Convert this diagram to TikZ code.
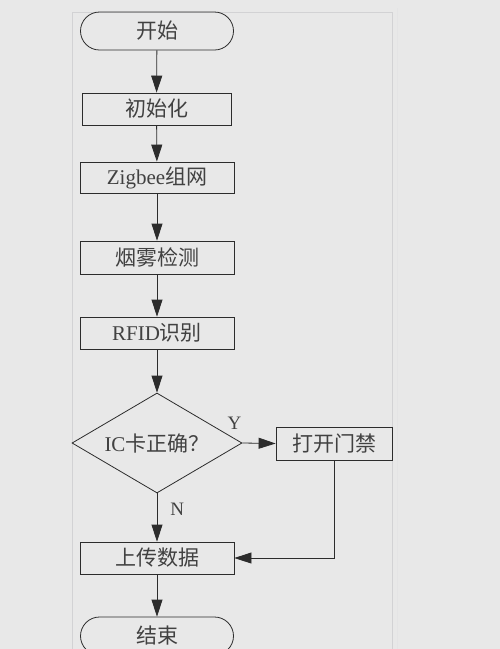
\documentclass[tikz,border=0pt]{standalone}
\usepackage{fontspec}
\setmainfont{Liberation Serif}
\newfontfamily\cjk{Noto Sans CJK SC}
\usetikzlibrary{shapes.geometric,arrows.meta}
\definecolor{bgcol}{HTML}{E8E8E8}
\definecolor{panelcol}{HTML}{D2D2D4}
\definecolor{inkcol}{HTML}{2C2C2C}
\newcommand{\zh}[1]{{\cjk #1}}
\tikzset{
	>={Triangle[length=17pt,width=11pt]},
	every node/.style={text=inkcol!90,font=\fontsize{21}{21}\selectfont},
	procbox/.style={draw=inkcol,line width=.8pt,rectangle,minimum width=154pt,minimum height=32pt,inner sep=0pt},
	termbox/.style={draw=inkcol,line width=.8pt,rectangle,rounded corners=19pt,minimum width=153pt,minimum height=38pt,inner sep=0pt},
	testbox/.style={draw=inkcol,line width=.8pt,diamond,aspect=1.7,minimum width=170pt,minimum height=100pt,inner sep=1pt},
	flow/.style={->,draw=inkcol,line width=.8pt},
	yesno/.style={font=\fontsize{19}{19}\selectfont,inner sep=0pt},
}
\begin{document}
\begin{tikzpicture}[x=1pt,y=-1pt]
		\fill[bgcol] (0,0) rectangle (500,649);
		\useasboundingbox (0,0) rectangle (500,649);
		% panel frame
		\draw[panelcol,line width=1pt] (72,660) -- (72,12) -- (392,12) -- (392,660);
		\draw[panelcol!60,line width=1pt] (397,8) -- (397,660);
		\node[termbox] (start) at (157,31) {\zh{开始}};
		\node[procbox,minimum width=149pt] (init) at (156.5,109) {\zh{初始化}};
		\node[procbox,minimum height=31pt] (zigbee) at (157,177.5) {Zigbee\zh{组网}};
		\node[procbox,minimum height=33pt] (smoke) at (157,257.5) {\zh{烟雾检测}};
		\node[procbox] (rfid) at (157,333) {RFID\zh{识别}};
		\node[testbox] (check) at (157,443) {IC\zh{卡正确？}};
		\node[procbox,minimum width=116pt,minimum height=33pt] (door) at (334,443.5) {\zh{打开门禁}};
		\node[procbox] (upload) at (157,558) {\zh{上传数据}};
		\node[termbox] (stop) at (157,636) {\zh{结束}};
		\foreach \from/\to in {start/init,init/zigbee,zigbee/smoke,smoke/rfid,rfid/check,upload/stop} {
			\draw[flow] (\from) -- (\to);
		};
		\draw[flow] (check) -- node[yesno,pos=.33,anchor=west,xshift=13pt] {N} (upload);
		\draw[flow] (check.east) -- node[yesno,pos=0,anchor=south,xshift=-8pt,yshift=13pt] {Y} (door.west);
		\draw[flow] (door.south) |- (upload.east);
	\end{tikzpicture}
\end{document}
